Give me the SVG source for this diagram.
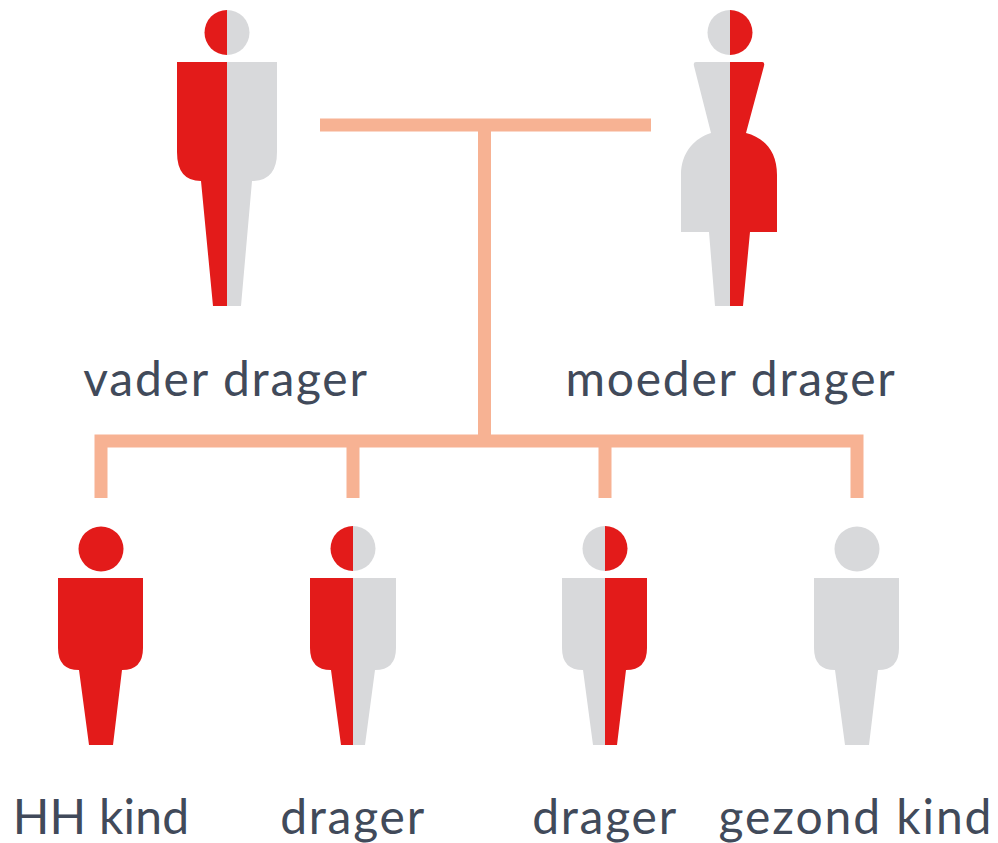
<svg xmlns="http://www.w3.org/2000/svg" width="998" height="843" viewBox="0 0 998 843">
<style>
.r{fill:#e31b1a}.g{fill:#d8d9db}
.t{font-family:"Lato","Open Sans",sans-serif;font-size:48px;fill:#414a5a;text-anchor:middle;letter-spacing:1.75px}
.c{stroke:#f7b293;stroke-width:13;fill:none}
</style>
<rect width="998" height="843" fill="#fff"/>
<g id="connectors">
<path class="c" d="M320 125H651M484.500 125V436M101 498V441M353 498V441M605 498V441M857 498V441M94.500 441H863.500"/>
</g>
<g id="vader">
<path class="r" d="M227 10A22.500 22.500 0 0 0 227 55Z"/><path class="g" d="M227 10A22.500 22.500 0 0 1 227 55Z"/>
<path class="r" d="M227 62H177V152Q177 181 201 181L213 306H227Z"/><path class="g" d="M227 62H277V152Q277 181 252 181L241 306H227Z"/>
<text class="t" x="226" y="396">vader drager</text>
</g>
<g id="moeder">
<path class="g" d="M730 10A22.500 22.500 0 0 0 730 55Z"/><path class="r" d="M730 10A22.500 22.500 0 0 1 730 55Z"/>
<path class="g" d="M730 62H696Q693 62 694 66L711 133C695 138 681 152 681 175V232H709L715 306H730Z"/>
<path class="r" d="M730 62H762Q765 62 764 66L746 133C765 138 777 152 777 175V232H750L743 306H730Z"/>
<text class="t" x="731" y="396">moeder drager</text>
</g>
<g id="kind-hh">
<circle class="r" cx="101" cy="549" r="22.500"/>
<path class="r" d="M58 578H143V648Q143 670 122 670L113 745H89L79 670Q58 670 58 648Z"/>
<text class="t" x="101" y="834" style="letter-spacing:0.2px">HH kind</text>
</g>
<g id="drager-1">
<path class="r" d="M353 526A22.500 22.500 0 0 0 353 571Z"/><path class="g" d="M353 526A22.500 22.500 0 0 1 353 571Z"/>
<path class="r" d="M353 578H310V648Q310 670 331 670L341 745H353Z"/><path class="g" d="M353 578H396V648Q396 670 375 670L365 745H353Z"/>
<text class="t" x="353" y="834">drager</text>
</g>
<g id="drager-2">
<path class="g" d="M605 526A22.500 22.500 0 0 0 605 571Z"/><path class="r" d="M605 526A22.500 22.500 0 0 1 605 571Z"/>
<path class="g" d="M605 578H562V648Q562 670 583 670L593 745H605Z"/><path class="r" d="M605 578H647V648Q647 670 626 670L617 745H605Z"/>
<text class="t" x="605" y="834">drager</text>
</g>
<g id="gezond">
<circle class="g" cx="857" cy="549" r="22.500"/>
<path class="g" d="M814 578H899V648Q899 670 878 670L869 745H845L835 670Q814 670 814 648Z"/>
<text class="t" x="856" y="834" style="letter-spacing:1.9px">gezond kind</text>
</g>
</svg>
